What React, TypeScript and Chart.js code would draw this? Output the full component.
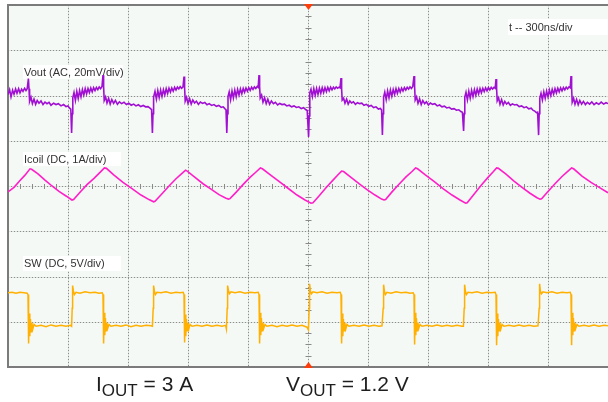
import React, { useEffect, useRef } from "react";
import { Chart, registerables } from "chart.js";

Chart.register(...registerables);

// ---- scope settings ----
const TIME_PER_DIV_NS = 300;
const DIVS_X = 10;
const DIVS_Y = 8;
const VOUT_MV_PER_DIV = 20;
const VOUT_ZERO_DIV = 2;
const ICOIL_A_PER_DIV = 1;
const ICOIL_ZERO_DIV = -3;
const SW_V_PER_DIV = 5;
const SW_ZERO_DIV = -3;

const channelLabels = ["Vout (AC, 20mV/div)", "Icoil (DC, 1A/div)", "SW (DC, 5V/div)"];
const timebaseLabel = "t -- 300ns/div";
const ioutCaption = ["I", "OUT", " = 3 A"];
const voutCaption = ["V", "OUT", " = 1.2 V"];

// ---- traces: [time ns, value] ----
// Vout, AC coupled, mV
const voutTrace: [number, number][] = [
  [0, 0.4], [8, 2.6], [15, -0.6], [23, 2.4], [30, 0.6], [38, 2.9], [45, 1.0], [53, 3.0], [60, 1.2], [68, 2.8], [75, 1.8], [83, 3.2], [90, 2.2], [96, 3.0],
  [102, 7.5], [105, 3.0], [108, -2.6],
  [115, -0.8], [122, -3.6], [130, -1.6], [138, -3.9], [146, -2.2], [155, -3.4], [165, -2.4], [175, -4.0], [185, -2.9], [195, -3.6], [205, -3.0], [215, -4.3], [228, -3.4], [240, -4.0], [252, -3.6], [265, -4.6], [278, -4.0], [290, -4.9], [300, -4.6], [308, -5.6], [314, -6.0],
  [318, -16.6], [321, -8], [324, -1.0],
  [330, 1.3], [337, -2.2], [344, 1.8], [351, -1.3], [358, 2.2], [365, -0.6], [372, 2.6], [379, 0.2], [386, 3.0], [393, 0.7], [400, 3.1], [407, 1.3], [414, 3.3], [421, 1.6], [428, 3.5], [435, 2.2], [442, 3.6], [449, 2.6], [456, 3.8], [463, 3.0], [470, 4.0],
  [475, 9.0], [478, 4], [481, -2.2],
  [488, -0.6], [495, -3.3], [503, -1.2], [511, -3.8], [519, -1.8], [528, -3.5], [537, -2.2], [547, -3.9], [557, -2.8], [568, -3.6], [580, -3.0], [592, -4.0], [604, -3.4], [616, -4.3], [628, -3.8], [640, -4.6], [652, -4.1], [664, -4.9], [676, -4.4], [688, -5.0], [700, -4.9], [710, -5.6], [718, -6.2],
  [722, -16.6], [725, -8], [728, -0.7],
  [735, 1.8], [742, -1.6], [749, 2.2], [756, -0.9], [763, 2.4], [770, -0.4], [777, 2.6], [784, 0.3], [791, 3.0], [798, 0.9], [805, 3.2], [812, 1.5], [819, 3.3], [826, 1.9], [833, 3.6], [840, 2.4], [847, 3.7], [854, 2.9], [861, 3.9], [868, 3.2], [875, 3.8],
  [880, 8.4], [883, 3.5], [886, -2.5],
  [893, -0.8], [900, -3.5], [908, -1.4], [916, -3.8], [924, -2.0], [933, -3.3], [942, -2.5], [952, -3.9], [962, -2.9], [973, -3.5], [984, -3.1], [995, -4.1], [1006, -3.6], [1018, -4.4], [1030, -4.0], [1042, -4.8], [1054, -4.4], [1066, -5.2], [1076, -5.0], [1084, -5.8], [1090, -6.3],
  [1094, -16.6], [1097, -8], [1100, -0.5],
  [1106, 1.6], [1113, -1.9], [1120, 2.0], [1127, -1.1], [1134, 2.4], [1141, -0.5], [1148, 2.7], [1155, 0.2], [1162, 2.9], [1169, 0.8], [1176, 3.1], [1183, 1.4], [1190, 3.3], [1197, 1.9], [1204, 3.5], [1211, 2.3], [1218, 3.7], [1225, 2.7], [1232, 3.8], [1239, 3.1], [1246, 4.0], [1251, 3.6],
  [1255, 9.0], [1258, 4], [1261, -1.1],
  [1268, 0.2], [1275, -3.0], [1283, -1.0], [1291, -3.6], [1299, -1.6], [1308, -3.9], [1317, -2.4], [1327, -3.6], [1337, -3.0], [1348, -4.2], [1359, -3.5], [1370, -4.0], [1382, -3.8], [1394, -4.6], [1406, -4.3], [1418, -5.0], [1430, -4.6], [1442, -5.3], [1454, -5.0], [1466, -5.8], [1478, -5.4], [1488, -6.2], [1496, -6.6],
  [1503, -18.3], [1506, -9], [1509, 1.2],
  [1515, 2.8], [1522, -0.5], [1529, 3.0], [1536, 0.1], [1543, 3.1], [1550, 0.5], [1557, 3.3], [1564, 1.0], [1571, 3.4], [1578, 1.3], [1585, 3.5], [1592, 1.7], [1599, 3.6], [1606, 2.1], [1613, 3.7], [1620, 2.5], [1627, 3.7], [1634, 2.9], [1641, 3.8], [1648, 3.2], [1655, 3.7], [1660, 3.4],
  [1665, 7.7], [1668, 3], [1671, -2.0],
  [1678, -1.2], [1685, -3.4], [1693, -1.6], [1701, -3.8], [1709, -2.4], [1718, -3.3], [1727, -2.8], [1737, -3.9], [1747, -3.2], [1758, -3.6], [1769, -3.4], [1780, -4.3], [1792, -3.9], [1804, -4.8], [1816, -4.4], [1828, -5.3], [1840, -5.0], [1852, -6.0], [1862, -5.7], [1868, -6.4],
  [1872, -17.5], [1875, -8], [1878, -0.7],
  [1884, 1.5], [1891, -1.8], [1898, 2.0], [1905, -1.0], [1912, 2.4], [1919, -0.3], [1926, 2.7], [1933, 0.4], [1940, 3.0], [1947, 0.9], [1954, 3.1], [1961, 1.5], [1968, 3.3], [1975, 2.0], [1982, 3.5], [1989, 2.4], [1996, 3.6], [2003, 2.8], [2010, 3.8], [2017, 3.1], [2024, 4.0],
  [2030, 8.6], [2033, 4], [2036, -2.0],
  [2043, -0.6], [2050, -3.5], [2058, -1.5], [2066, -4.0], [2074, -2.2], [2083, -3.6], [2092, -2.8], [2102, -4.2], [2112, -3.3], [2123, -3.9], [2134, -3.6], [2146, -4.6], [2158, -4.2], [2170, -5.0], [2182, -4.7], [2194, -5.5], [2206, -5.2], [2218, -6.0], [2230, -5.8], [2242, -6.5], [2254, -6.3], [2264, -7.1], [2272, -7.4],
  [2278, -15.7], [2281, -8], [2284, -0.7],
  [2290, 1.4], [2297, -1.9], [2304, 1.9], [2311, -1.2], [2318, 2.3], [2325, -0.5], [2332, 2.6], [2339, 0.1], [2346, 2.9], [2353, 0.7], [2360, 3.1], [2367, 1.2], [2374, 3.2], [2381, 1.7], [2388, 3.4], [2395, 2.1], [2402, 3.5], [2409, 2.5], [2416, 3.6], [2423, 2.9], [2430, 3.6], [2436, 3.2],
  [2440, 7.3], [2443, 3], [2446, -2.4],
  [2453, -1.0], [2460, -3.9], [2468, -1.8], [2476, -4.2], [2484, -2.6], [2493, -3.8], [2502, -3.1], [2512, -4.4], [2522, -3.7], [2533, -4.2], [2544, -4.0], [2556, -4.9], [2568, -4.6], [2580, -5.4], [2592, -5.0], [2604, -5.9], [2616, -5.6], [2626, -6.6], [2634, -6.9], [2642, -7.6], [2648, -7.4],
  [2653, -17.5], [2656, -8], [2659, -1.1],
  [2665, 1.0], [2672, -2.0], [2679, 1.6], [2686, -1.2], [2693, 2.0], [2700, -0.6], [2707, 2.4], [2714, 0.0], [2721, 2.7], [2728, 0.6], [2735, 3.0], [2742, 1.1], [2749, 3.2], [2756, 1.6], [2763, 3.4], [2770, 2.1], [2777, 3.5], [2784, 2.5], [2791, 3.7], [2798, 2.9], [2805, 3.8], [2811, 3.4],
  [2815, 8.6], [2818, 3.5], [2821, -3.0],
  [2828, -1.2], [2835, -3.9], [2843, -1.7], [2851, -4.1], [2859, -2.2], [2868, -3.8], [2877, -2.6], [2887, -4.0], [2897, -3.0], [2908, -3.8], [2919, -2.8], [2930, -4.0], [2942, -3.2], [2954, -3.9], [2966, -2.9], [2978, -3.8], [2990, -3.2], [3000, -3.6],
];

// Icoil, DC coupled, A
const icoilTrace: [number, number][] = [
  [0, 2.87], [30, 2.97], [60, 3.12], [85, 3.24], [110, 3.38], [118, 3.37],
  [150, 3.27], [185, 3.13], [220, 3.0], [255, 2.88], [290, 2.78], [320, 2.69], [328, 2.7],
  [360, 2.86], [395, 3.03], [430, 3.17], [460, 3.3], [482, 3.4], [492, 3.39],
  [530, 3.24], [575, 3.08], [620, 2.94], [665, 2.8], [705, 2.7], [728, 2.65], [735, 2.66],
  [770, 2.83], [805, 3.0], [840, 3.16], [870, 3.28], [888, 3.35], [896, 3.33],
  [935, 3.19], [975, 3.05], [1015, 2.93], [1055, 2.81], [1090, 2.73], [1103, 2.71], [1110, 2.72],
  [1140, 2.86], [1175, 3.03], [1210, 3.19], [1240, 3.31], [1262, 3.4], [1272, 3.38],
  [1310, 3.25], [1355, 3.1], [1400, 2.95], [1445, 2.8], [1485, 2.69], [1515, 2.62], [1525, 2.63],
  [1555, 2.78], [1590, 2.96], [1625, 3.13], [1650, 3.25], [1668, 3.33], [1678, 3.32],
  [1715, 3.19], [1755, 3.05], [1795, 2.92], [1835, 2.8], [1868, 2.71], [1880, 2.69], [1888, 2.7],
  [1920, 2.87], [1955, 3.04], [1990, 3.2], [2020, 3.32], [2038, 3.4], [2048, 3.38],
  [2085, 3.25], [2130, 3.1], [2175, 2.94], [2220, 2.8], [2260, 2.69], [2288, 2.62], [2296, 2.63],
  [2330, 2.82], [2365, 3.01], [2400, 3.19], [2425, 3.31], [2443, 3.4], [2452, 3.39],
  [2490, 3.26], [2530, 3.11], [2570, 2.97], [2610, 2.84], [2645, 2.74], [2660, 2.71], [2668, 2.72],
  [2700, 2.88], [2735, 3.05], [2770, 3.21], [2800, 3.33], [2818, 3.4], [2828, 3.38],
  [2870, 3.22], [2915, 3.08], [2960, 2.96], [3000, 2.85],
];

// SW node, DC coupled, V
const swTrace: [number, number][] = [
  [0, 3.2], [20, 3.25], [40, 3.15], [60, 3.25], [80, 3.2], [96, 3.15],
  [100, 3.0], [103, -2.4], [106, 0.9], [109, -1.6], [112, 0.3], [115, -1.1], [119, -0.1], [124, -0.8], [130, -0.3], [140, -0.5],
  [165, -0.4], [190, -0.55], [215, -0.35], [240, -0.5], [265, -0.4], [290, -0.5], [312, -0.4], [318, -0.5],
  [321, 1.5], [323, 4.0], [327, 3.4], [332, 3.0], [340, 3.25], [360, 3.15], [385, 3.3], [410, 3.2], [435, 3.25], [455, 3.15], [471, 3.2],
  [475, 3.0], [478, -2.4], [481, 1.0], [484, -1.5], [487, 0.4], [490, -1.0], [494, -0.1], [499, -0.7], [505, -0.3], [515, -0.5],
  [540, -0.4], [565, -0.5], [590, -0.35], [615, -0.55], [640, -0.4], [665, -0.5], [690, -0.4], [715, -0.45], [722, -0.5],
  [726, 1.5], [728, 4.0], [732, 3.4], [737, 3.0], [745, 3.25], [765, 3.2], [790, 3.3], [815, 3.15], [840, 3.25], [860, 3.2], [876, 3.25],
  [880, 3.0], [883, -2.3], [886, 0.8], [889, -1.6], [892, 0.3], [895, -1.0], [899, -0.1], [904, -0.8], [910, -0.3], [920, -0.5],
  [945, -0.4], [970, -0.5], [995, -0.35], [1020, -0.5], [1045, -0.4], [1070, -0.5], [1088, -0.4], [1092, -0.8],
  [1096, 1.5], [1098, 4.0], [1102, 3.5], [1107, 3.1], [1115, 3.3], [1135, 3.2], [1160, 3.3], [1185, 3.15], [1210, 3.25], [1235, 3.2], [1251, 3.25],
  [1255, 3.0], [1258, -2.4], [1261, 1.0], [1264, -1.5], [1267, 0.4], [1270, -1.0], [1274, -0.1], [1279, -0.7], [1285, -0.3], [1295, -0.5],
  [1320, -0.4], [1345, -0.55], [1370, -0.4], [1395, -0.5], [1420, -0.35], [1445, -0.5], [1470, -0.4], [1495, -0.6], [1502, -0.9],
  [1506, 1.5], [1508, 4.2], [1512, 3.4], [1517, 3.1], [1525, 3.3], [1545, 3.2], [1570, 3.3], [1595, 3.15], [1620, 3.25], [1645, 3.2], [1661, 3.25],
  [1665, 3.0], [1668, -2.4], [1671, 0.9], [1674, -1.6], [1677, 0.3], [1680, -1.0], [1684, -0.1], [1689, -0.8], [1695, -0.3], [1705, -0.5],
  [1730, -0.4], [1755, -0.5], [1780, -0.35], [1805, -0.5], [1830, -0.4], [1855, -0.5], [1870, -0.45],
  [1876, 1.5], [1878, 4.1], [1882, 3.4], [1887, 3.0], [1895, 3.25], [1915, 3.15], [1940, 3.3], [1965, 3.2], [1990, 3.25], [2010, 3.15], [2026, 3.2],
  [2030, 3.0], [2033, -2.5], [2036, 1.0], [2039, -1.5], [2042, 0.4], [2045, -1.0], [2049, -0.1], [2054, -0.7], [2060, -0.3], [2070, -0.5],
  [2095, -0.4], [2120, -0.5], [2145, -0.35], [2170, -0.5], [2195, -0.4], [2220, -0.5], [2245, -0.4], [2270, -0.5], [2277, -0.5],
  [2281, 1.5], [2283, 4.1], [2287, 3.4], [2292, 3.0], [2300, 3.25], [2320, 3.2], [2345, 3.3], [2370, 3.15], [2395, 3.25], [2415, 3.2], [2436, 3.25],
  [2440, 3.0], [2443, -2.6], [2446, 0.9], [2449, -1.6], [2452, 0.3], [2455, -1.0], [2459, -0.1], [2464, -0.8], [2470, -0.3], [2480, -0.5],
  [2505, -0.4], [2530, -0.5], [2555, -0.35], [2580, -0.5], [2605, -0.4], [2630, -0.5], [2650, -0.45],
  [2656, 1.5], [2658, 4.2], [2662, 3.4], [2667, 3.1], [2675, 3.3], [2695, 3.2], [2720, 3.3], [2745, 3.15], [2770, 3.25], [2795, 3.2], [2811, 3.25],
  [2815, 3.0], [2818, -2.6], [2821, 1.0], [2824, -1.5], [2827, 0.4], [2830, -1.0], [2834, -0.1], [2839, -0.7], [2845, -0.3], [2855, -0.5],
  [2880, -0.4], [2905, -0.5], [2930, -0.35], [2955, -0.5], [2980, -0.4], [3000, -0.45],
];

const FONT = 'Arial, "Liberation Sans", Helvetica, sans-serif';

const toDiv = (trace: [number, number][], zeroDiv: number, perDiv: number) =>
  trace.map(([t, v]) => ({ x: t, y: zeroDiv + v / perDiv }));

const scopePlugin = {
  id: "scopeScreen",
  beforeDatasetsDraw(chart: any) {
    const { ctx, chartArea: a, scales } = chart;
    const xs = scales.x;
    const ys = scales.y;
    ctx.save();
    ctx.fillStyle = "#f4f9f5";
    ctx.fillRect(a.left, a.top, a.right - a.left, a.bottom - a.top);

    const vLine = (x: number) => {
      ctx.setLineDash([]);
      ctx.strokeStyle = "#dde2dd";
      ctx.lineWidth = 1;
      ctx.beginPath(); ctx.moveTo(x, a.top); ctx.lineTo(x, a.bottom); ctx.stroke();
      ctx.setLineDash([1, 2]);
      ctx.strokeStyle = "#8d8d8d";
      ctx.beginPath(); ctx.moveTo(x, a.top); ctx.lineTo(x, a.bottom); ctx.stroke();
    };
    const hLine = (y: number) => {
      ctx.setLineDash([]);
      ctx.strokeStyle = "#dde2dd";
      ctx.lineWidth = 1;
      ctx.beginPath(); ctx.moveTo(a.left, y); ctx.lineTo(a.right, y); ctx.stroke();
      ctx.setLineDash([1, 2]);
      ctx.strokeStyle = "#8d8d8d";
      ctx.beginPath(); ctx.moveTo(a.left, y); ctx.lineTo(a.right, y); ctx.stroke();
    };
    for (let i = 1; i < DIVS_X; i++) {
      vLine(Math.round(xs.getPixelForValue(i * TIME_PER_DIV_NS)) + 0.5);
    }
    for (let j = -DIVS_Y / 2 + 1; j < DIVS_Y / 2; j++) {
      hLine(Math.round(ys.getPixelForValue(j)) + 0.5);
    }
    ctx.setLineDash([]);
    // centre crosshair minor ticks
    const xc = Math.round(xs.getPixelForValue((DIVS_X / 2) * TIME_PER_DIV_NS)) + 0.5;
    const yc = Math.round(ys.getPixelForValue(0)) + 0.5;
    ctx.strokeStyle = "#8a8a8a";
    ctx.lineWidth = 1;
    for (let k = -DIVS_Y * 2; k <= DIVS_Y * 2; k++) {
      if (k % 4 === 0) continue;
      const y = Math.round(ys.getPixelForValue(k * 0.25)) + 0.5;
      ctx.beginPath(); ctx.moveTo(xc - 3, y); ctx.lineTo(xc + 3, y); ctx.stroke();
    }
    for (let k = 0; k <= DIVS_X * 5; k++) {
      if (k % 5 === 0) continue;
      const x = Math.round(xs.getPixelForValue((k * TIME_PER_DIV_NS) / 5)) + 0.5;
      ctx.beginPath(); ctx.moveTo(x, yc - 2.5); ctx.lineTo(x, yc + 2.5); ctx.stroke();
    }

    // border
    ctx.strokeStyle = "#7b7b7b";
    ctx.lineWidth = 2;
    ctx.beginPath();
    ctx.moveTo(a.right + 2, a.top);
    ctx.lineTo(a.left, a.top);
    ctx.lineTo(a.left, a.bottom);
    ctx.lineTo(a.right + 2, a.bottom);
    ctx.stroke();

    // channel labels
    ctx.font = `11px ${FONT}`;
    ctx.textBaseline = "middle";
    const boxes = [
      { text: channelLabels[0], x: 23, y: 65, w: 100, h: 14 },
      { text: channelLabels[1], x: 23, y: 152, w: 98, h: 14 },
      { text: channelLabels[2], x: 23, y: 256, w: 98, h: 15 },
      { text: timebaseLabel, x: 508, y: 19, w: 100, h: 16 },
    ];
    for (const b of boxes) {
      ctx.fillStyle = "#ffffff";
      ctx.fillRect(b.x, b.y, b.w, b.h);
      ctx.fillStyle = "#333333";
      ctx.fillText(b.text, b.x + 1, b.y + b.h / 2 + 0.5);
    }
    ctx.restore();
  },
  afterDatasetsDraw(chart: any) {
    const { ctx, chartArea: a, scales } = chart;
    const xc = scales.x.getPixelForValue((DIVS_X / 2) * TIME_PER_DIV_NS) + 0.5;
    ctx.save();
    ctx.fillStyle = "#ff3d0a";
    ctx.beginPath();
    ctx.moveTo(xc - 4.5, a.top - 1); ctx.lineTo(xc + 4.5, a.top - 1); ctx.lineTo(xc, a.top + 5);
    ctx.closePath(); ctx.fill();
    ctx.beginPath();
    ctx.moveTo(xc - 4.5, a.bottom + 1); ctx.lineTo(xc + 4.5, a.bottom + 1); ctx.lineTo(xc, a.bottom - 5);
    ctx.closePath(); ctx.fill();

    // captions under the screen
    const caption = (parts: string[], x: number, base: number) => {
      ctx.fillStyle = "#1e1e1e";
      ctx.textBaseline = "alphabetic";
      ctx.font = `21px ${FONT}`;
      ctx.fillText(parts[0], x, base);
      x += ctx.measureText(parts[0]).width;
      ctx.font = `17px ${FONT}`;
      ctx.fillText(parts[1], x, base + 5);
      x += ctx.measureText(parts[1]).width;
      ctx.font = `21px ${FONT}`;
      ctx.fillText(parts[2], x, base);
    };
    caption(ioutCaption, 96, 391);
    caption(voutCaption, 286, 391);
    ctx.restore();
  },
};

export default function App() {
  const canvasRef = useRef<HTMLCanvasElement | null>(null);

  useEffect(() => {
    const canvas = canvasRef.current;
    if (!canvas) return;
    const chart = new Chart(canvas, {
      type: "line",
      data: {
        datasets: [
          {
            label: "Vout",
            data: toDiv(voutTrace, VOUT_ZERO_DIV, VOUT_MV_PER_DIV),
            borderColor: "#a00fd2",
            borderWidth: 1.6,
            pointRadius: 0,
            tension: 0,
          },
          {
            label: "Icoil",
            data: toDiv(icoilTrace, ICOIL_ZERO_DIV, ICOIL_A_PER_DIV),
            borderColor: "#ff1ec8",
            borderWidth: 1.6,
            pointRadius: 0,
            tension: 0,
          },
          {
            label: "SW",
            data: toDiv(swTrace, SW_ZERO_DIV, SW_V_PER_DIV),
            borderColor: "#ffb000",
            borderWidth: 1.5,
            pointRadius: 0,
            tension: 0,
          },
        ],
      },
      options: {
        animation: false,
        responsive: false,
        devicePixelRatio: 1,
        layout: { padding: { left: 8, right: 0, top: 5, bottom: 35 } },
        plugins: { legend: { display: false }, tooltip: { enabled: false } },
        events: [],
        scales: {
          x: { type: "linear", display: false, min: 0, max: DIVS_X * TIME_PER_DIV_NS },
          y: { type: "linear", display: false, min: -DIVS_Y / 2, max: DIVS_Y / 2 },
        },
      },
      plugins: [scopePlugin],
    });
    return () => chart.destroy();
  }, []);

  return (
    <canvas
      ref={canvasRef}
      width={608}
      height={402}
      style={{ position: "absolute", left: 0, top: 0, width: 608, height: 402, background: "#ffffff" }}
    />
  );
}
